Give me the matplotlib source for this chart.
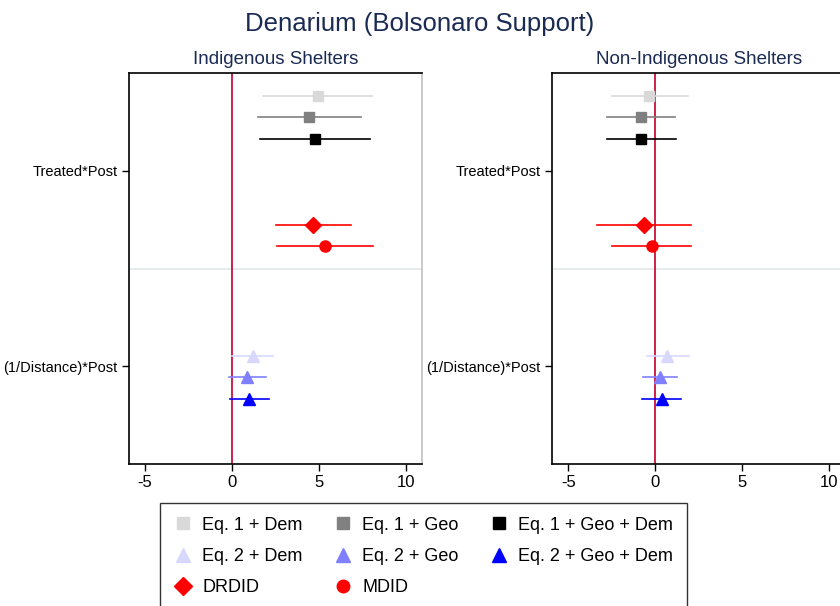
import matplotlib
matplotlib.use("Agg")
import matplotlib.pyplot as plt
from matplotlib.lines import Line2D
import numpy as np

plt.rcParams['font.family'] = ['Liberation Sans', 'DejaVu Sans']

rows = ["Treated*Post", "(1/Distance)*Post"]
series = ["Eq. 1 + Dem", "Eq. 1 + Geo", "Eq. 1 + Geo + Dem",
          "Eq. 2 + Dem", "Eq. 2 + Geo", "Eq. 2 + Geo + Dem",
          "DRDID", "MDID"]
series_row = [0, 0, 0, 1, 1, 1, 0, 0]

# point estimates and 95% CI bounds
indig_coef = [4.96, 4.44, 4.77, 1.19, 0.88, 1.00, 4.67, 5.34]
indig_lo = [1.80, 1.51, 1.61, -0.02, -0.15, -0.11, 2.51, 2.57]
indig_hi = [8.06, 7.39, 7.93, 2.38, 1.95, 2.11, 6.84, 8.09]

nonind_coef = [-0.35, -0.84, -0.80, 0.69, 0.27, 0.38, -0.65, -0.21]
nonind_lo = [-2.51, -2.76, -2.76, -0.50, -0.69, -0.75, -3.37, -2.47]
nonind_hi = [1.86, 1.12, 1.19, 1.95, 1.23, 1.46, 2.07, 2.07]

colors = ['#d9d9d9', '#808080', '#000000',
          '#d8d8ff', '#8080ff', '#0000ff',
          '#ff0000', '#ff0000']
markers = ['s', 's', 's', '^', '^', '^', 'D', 'o']
msizes = [7.5, 7.5, 7.5, 9, 9, 9, 8, 8]

xticks = [-5, 0, 5, 10]
title_col = '#1a2a52'
zero_col = '#c8103e'

fig = plt.figure(figsize=[8.4, 6.06], dpi=100)
ax1 = fig.add_axes([0.153, 0.2343, 0.3494, 0.6447])
ax2 = fig.add_axes([0.657, 0.2343, 0.3494, 0.6447])


def coefplot(ax, coef, lo, hi, title):
    ax.axvline(0, color=zero_col, lw=1.3, zorder=1)
    ax.axhline(1.5, color='#e4eaec', lw=1.3, zorder=0)
    for i in range(len(series)):
        y = series_row[i] + 1 + (i - 3.5) * 0.11
        ax.plot([lo[i], hi[i]], [y, y], color=colors[i], lw=1.2, zorder=2)
        ax.plot(coef[i], y, marker=markers[i], ms=msizes[i], color=colors[i],
                mec=colors[i], ls='none', zorder=3)
    ax.set_xlim(-5.95, 10.92)
    ax.set_ylim(2.5, 0.5)
    ax.set_xticks(xticks)
    ax.set_xticklabels([str(t) for t in xticks], fontsize=12)
    ax.set_yticks([1, 2])
    ax.set_yticklabels(rows, fontsize=10.5)
    ax.tick_params(length=5, width=1, color='black', pad=3)
    for s in ['left', 'top', 'bottom']:
        ax.spines[s].set_color('black')
        ax.spines[s].set_linewidth(1.2)
    ax.spines['right'].set_color('#c0c0c0')
    ax.spines['right'].set_linewidth(1.2)
    ax.set_title(title, fontsize=13.5, color=title_col, pad=7)


coefplot(ax1, indig_coef, indig_lo, indig_hi, "Indigenous Shelters")
coefplot(ax2, nonind_coef, nonind_lo, nonind_hi, "Non-Indigenous Shelters")

fig.suptitle("Denarium (Bolsonaro Support)", fontsize=18.5, color=title_col, y=0.98)

# legend reads row by row, matplotlib fills columns first
order = [0, 3, 6, 1, 4, 7, 2, 5]
handles = [Line2D([], [], marker=markers[i], color=colors[i], mec=colors[i], ls='none',
                  ms=msizes[i] + 1) for i in order]
labels = [series[i] for i in order]
leg = fig.legend(handles, labels, ncol=3, loc='upper left',
                 bbox_to_anchor=(0.1905, 0.170), fontsize=13, frameon=True,
                 fancybox=False, edgecolor='black', handlelength=1.0,
                 handletextpad=0.6, columnspacing=1.7, labelspacing=0.8,
                 borderpad=0.75, borderaxespad=0)
leg.get_frame().set_linewidth(1.0)

plt.savefig("out.png", dpi=100)
